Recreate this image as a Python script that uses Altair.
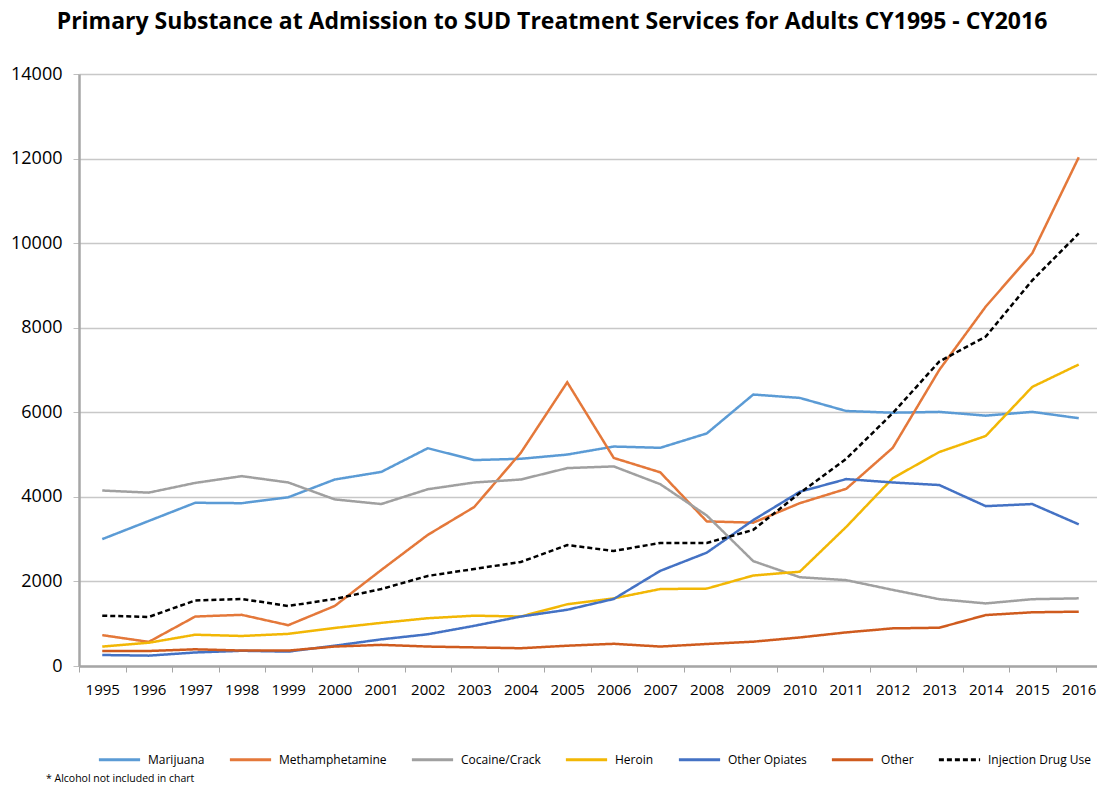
import altair as alt
import pandas as pd

years = list(range(1995, 2017))
marijuana = [3000, 3430, 3860, 3850, 3990, 4410, 4590, 5150, 4870, 4900, 5000, 5190, 5160, 5500, 6420, 6340, 6030, 5990, 6010, 5920, 6010, 5860]
meth = [730, 570, 1170, 1210, 965, 1420, 2270, 3100, 3760, 5040, 6710, 4920, 4580, 3420, 3390, 3850, 4190, 5160, 7000, 8500, 9760, 12030]
cocaine = [4150, 4100, 4330, 4490, 4340, 3940, 3830, 4180, 4340, 4410, 4680, 4720, 4300, 3560, 2480, 2100, 2030, 1800, 1580, 1480, 1580, 1600]
heroin = [460, 550, 740, 710, 760, 900, 1020, 1130, 1190, 1170, 1460, 1600, 1820, 1830, 2140, 2230, 3290, 4440, 5060, 5440, 6600, 7130]
other_opiates = [260, 245, 320, 360, 340, 480, 630, 750, 950, 1170, 1330, 1585, 2250, 2680, 3450, 4120, 4420, 4340, 4280, 3780, 3830, 3350]
other = [355, 355, 395, 365, 365, 460, 500, 460, 440, 420, 480, 525, 460, 520, 575, 675, 795, 890, 905, 1205, 1270, 1285]
idu = [1190, 1160, 1550, 1585, 1420, 1585, 1820, 2130, 2295, 2460, 2860, 2720, 2910, 2910, 3220, 4090, 4900, 5980, 7200, 7790, 9120, 10230]

series_names = ["Marijuana", "Methamphetamine", "Cocaine/Crack", "Heroin", "Other Opiates", "Other", "Injection Drug Use"]
series_values = [marijuana, meth, cocaine, heroin, other_opiates, other, idu]
colors = ["#5B9BD5", "#E4783A", "#A0A0A0", "#F2B705", "#4472C4", "#CF5B1E", "#000000"]
dashes = [[1, 0], [1, 0], [1, 0], [1, 0], [1, 0], [1, 0], [5, 3]]

rows = []
for name, vals in zip(series_names, series_values):
    for y, v in zip(years, vals):
        rows.append({"Year": str(y), "Series": name, "Value": v})
df = pd.DataFrame(rows)

FONT = "Open Sans"

legend_def = alt.Legend(title=None, orient="none", direction="horizontal",
                        legendX=18, legendY=663, symbolType="stroke",
                        symbolSize=1700, symbolStrokeWidth=3,
                        labelFont=FONT, labelFontSize=12, labelColor="#000000",
                        columnPadding=18, labelOffset=6)

chart = alt.Chart(df).mark_line(strokeWidth=2.5).encode(
    x=alt.X("Year:O", bandPosition=0.5,
            scale=alt.Scale(type="band", paddingInner=0, paddingOuter=0, range=[0, 1023]),
            axis=alt.Axis(title=None, labelAngle=0, tickBand="extent", tickSize=6,
                          tickColor="#A6A6A6", domainColor="#A6A6A6", domainWidth=2.5,
                          labelFont=FONT, labelFontSize=15, labelColor="#000000",
                          labelPadding=10, grid=False)),
    y=alt.Y("Value:Q", scale=alt.Scale(domain=[0, 14000], nice=False),
            axis=alt.Axis(title=None, values=list(range(0, 14001, 2000)), format="d",
                          tickSize=6, tickColor="#BFBFBF", domainColor="#A6A6A6", domainWidth=2.5,
                          gridColor="#C8C8C8", gridWidth=1.5,
                          labelFont=FONT, labelFontSize=18, labelColor="#000000", labelPadding=11)),
    color=alt.Color("Series:N", sort=series_names,
                    scale=alt.Scale(domain=series_names, range=colors),
                    legend=legend_def),
    strokeDash=alt.StrokeDash("Series:N", sort=series_names,
                              scale=alt.Scale(domain=series_names, range=dashes),
                              legend=legend_def),
    order=alt.Order("Year:O"),
)

note = alt.Chart(pd.DataFrame({"t": ["* Alcohol not included in chart"]})).mark_text(
    align="left", baseline="alphabetic", font=FONT, fontSize=10.5, color="#000000"
).encode(text="t:N", x=alt.value(-33), y=alt.value(708))

final = alt.layer(chart, note).properties(
    width=1016,
    height=592,
    title=alt.TitleParams(
        "Primary Substance at Admission to SUD Treatment Services for Adults CY1995 - CY2016",
        font=FONT, fontSize=23, fontWeight="bold", color="#000000",
        anchor="middle", dx=-35, offset=31),
    padding={"left": 71, "top": 66, "right": 2, "bottom": 118},
    autosize=alt.AutoSizeParams(type="none"),
).configure_view(stroke=None)

final.save("out.html", embed_options={"renderer": "svg", "actions": False})
